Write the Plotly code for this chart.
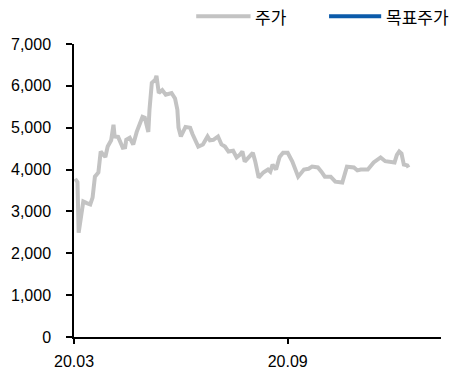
import plotly.graph_objects as go

dates = [
    "2020-03-02", "2020-03-04", "2020-03-05", "2020-03-07", "2020-03-09", "2020-03-12",
    "2020-03-15", "2020-03-17", "2020-03-19", "2020-03-22", "2020-03-24", "2020-03-26",
    "2020-03-28", "2020-03-30", "2020-04-02", "2020-04-04", "2020-04-05", "2020-04-08",
    "2020-04-10", "2020-04-12", "2020-04-14", "2020-04-15", "2020-04-18", "2020-04-21",
    "2020-04-24", "2020-04-27", "2020-04-29", "2020-05-01", "2020-05-03", "2020-05-04",
    "2020-05-05", "2020-05-07", "2020-05-10", "2020-05-11", "2020-05-13", "2020-05-15",
    "2020-05-16", "2020-05-19", "2020-05-22", "2020-05-24", "2020-05-27", "2020-05-29",
    "2020-05-30", "2020-06-01", "2020-06-05", "2020-06-09", "2020-06-11", "2020-06-13",
    "2020-06-16", "2020-06-20", "2020-06-24", "2020-06-26", "2020-06-29", "2020-07-03",
    "2020-07-06", "2020-07-09", "2020-07-12", "2020-07-16", "2020-07-19", "2020-07-22",
    "2020-07-24", "2020-07-26", "2020-07-30", "2020-08-02", "2020-08-04", "2020-08-07",
    "2020-08-11", "2020-08-15", "2020-08-17", "2020-08-19", "2020-08-22", "2020-08-25",
    "2020-08-28", "2020-09-01", "2020-09-05", "2020-09-08", "2020-09-10", "2020-09-15",
    "2020-09-19", "2020-09-22", "2020-09-27", "2020-09-30", "2020-10-03", "2020-10-08",
    "2020-10-12", "2020-10-18", "2020-10-21", "2020-10-22", "2020-10-28", "2020-10-31",
    "2020-11-03", "2020-11-09", "2020-11-14", "2020-11-20", "2020-11-24", "2020-11-26",
    "2020-12-02", "2020-12-04", "2020-12-06", "2020-12-08", "2020-12-10", "2020-12-13",
    "2020-12-14",
]
price = [
    3780, 3700, 2490, 2800, 3240, 3200,
    3170, 3330, 3830, 3930, 4430, 4360,
    4300, 4550, 4700, 5070, 4790, 4780,
    4640, 4520, 4530, 4710, 4760, 4600,
    4900, 5120, 5260, 5240, 4950, 4900,
    5430, 6070, 6150, 6240, 5830, 5870,
    5900, 5790, 5800, 5830, 5700, 5430,
    5000, 4790, 5020, 5000, 4850, 4710,
    4550, 4600, 4790, 4700, 4710, 4790,
    4600, 4550, 4430, 4450, 4290, 4360,
    4430, 4190, 4310, 4400, 4200, 3810,
    3930, 4000, 3950, 4120, 4000, 4300,
    4400, 4400, 4190, 4000, 3830, 4000,
    4020, 4070, 4050, 3950, 3830, 3830,
    3710, 3690, 3950, 4070, 4050, 3980,
    4000, 4000, 4170, 4290, 4200, 4190,
    4170, 4350, 4430, 4380, 4120, 4100,
    4050,
]
target_dates = []
target_price = []

x_tickvals = ["2020-03-01", "2020-09-01"]
x_ticktext = ["20.03", "20.09"]
y_tickvals = [0, 1000, 2000, 3000, 4000, 5000, 6000, 7000]
y_ticktext = ["0", "1,000", "2,000", "3,000", "4,000", "5,000", "6,000", "7,000"]
legend_names = ["주가", "목표주가"]

gray = "#C3C3C3"
blue = "#0B5BAA"
tick_font = dict(family="Liberation Sans, Arial", size=16, color="#000000")
kr_font = dict(family="Noto Sans CJK KR, Malgun Gothic, sans-serif", size=17, color="#000000")

fig = go.Figure()
fig.add_trace(go.Scatter(x=dates, y=price, mode="lines", name=legend_names[0],
                         line=dict(color=gray, width=4), showlegend=False))
fig.add_trace(go.Scatter(x=target_dates, y=target_price, mode="lines", name=legend_names[1],
                         line=dict(color=blue, width=3), showlegend=False))

# manual legend
legend_items = [(0.333, 0.481, gray, legend_names[0]), (0.695, 0.837, blue, legend_names[1])]
for x0, x1, col, name in legend_items:
    fig.add_shape(type="line", xref="paper", yref="paper", x0=x0, x1=x1, y0=1.095, y1=1.095,
                  line=dict(color=col, width=4))
    fig.add_annotation(xref="paper", yref="paper", x=x1 + 0.008, y=1.095, text=name,
                       showarrow=False, xanchor="left", yanchor="middle", font=kr_font)

fig.update_layout(
    width=462, height=376,
    margin=dict(l=74, r=21, t=44, b=39),
    paper_bgcolor="white", plot_bgcolor="white",
    showlegend=False,
    xaxis=dict(
        type="date", range=["2020-03-01", "2021-01-11"],
        tickvals=x_tickvals, ticktext=x_ticktext,
        showgrid=False, zeroline=False, automargin=False,
        showline=True, linecolor="#000000", linewidth=1.5,
        ticks="outside", ticklen=5, tickwidth=1.5, tickcolor="#000000",
        tickfont=tick_font, ticklabelstandoff=4,
    ),
    yaxis=dict(
        range=[0, 7000], tickvals=y_tickvals, ticktext=y_ticktext,
        showgrid=False, zeroline=False, automargin=False,
        showline=True, linecolor="#000000", linewidth=1.5,
        ticks="outside", ticklen=6, tickwidth=1.5, tickcolor="#000000",
        tickfont=tick_font, ticklabelstandoff=12,
    ),
)

fig.write_html("out.html")
